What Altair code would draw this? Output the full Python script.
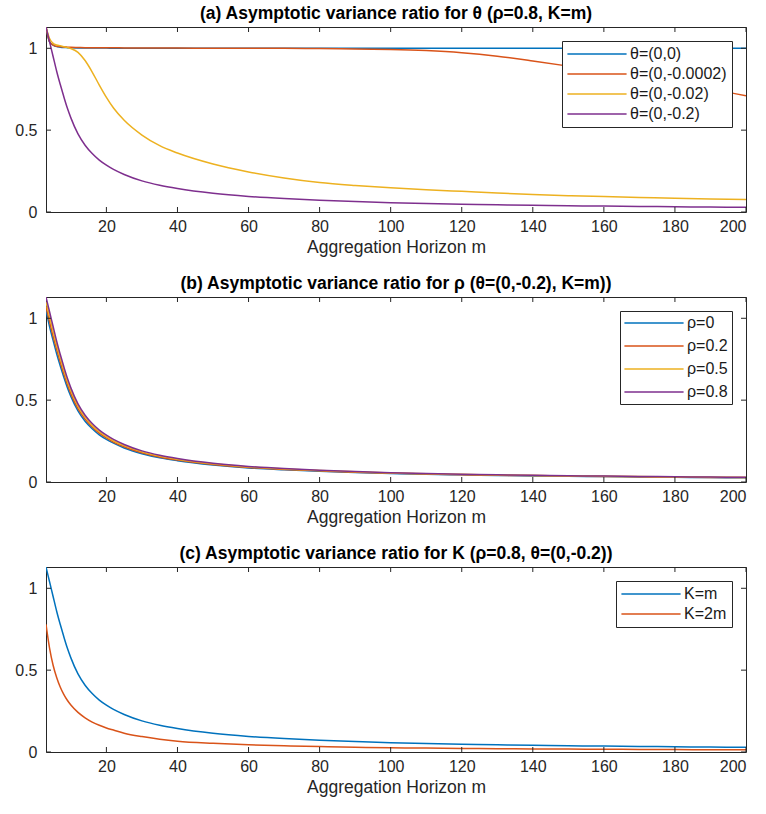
import altair as alt
import pandas as pd

# ---------------- data ----------------
m = [3, 4, 5, 6, 7, 8, 9, 10, 12, 14, 16, 18, 20, 22, 25, 30, 35, 40, 50, 60, 70,
     80, 90, 100, 110, 120, 130, 140, 150, 160, 170, 180, 190, 200]

# panel (a): theta
th_00 = [1.13, 1.04, 1.02, 1.01, 1.007, 1.005, 1.004, 1.003, 1.002, 1.002, 1.001, 1.001, 1.001, 1.0, 1.0, 1.0, 1.0,
         1.0, 1.0, 1.0, 1.0, 1.0, 1.0, 1.0, 1.0, 1.0, 1.0, 1.0, 1.0, 1.0, 1.0, 1.0, 1.0, 1.0]
th_00002 = [1.13, 1.04, 1.02, 1.012, 1.01, 1.008, 1.007, 1.006, 1.005, 1.004, 1.004, 1.003, 1.003, 1.003, 1.002,
            1.002, 1.001, 1.001, 1.0, 1.0, 1.0, 0.998, 0.996, 0.993, 0.986, 0.973, 0.952, 0.923, 0.891, 0.857,
            0.823, 0.789, 0.752, 0.71]
th_002 = [1.13, 1.06, 1.03, 1.02, 1.015, 1.01, 1.005, 0.998, 0.975, 0.925, 0.855, 0.775, 0.70, 0.635, 0.56, 0.47,
          0.405, 0.36, 0.293, 0.245, 0.208, 0.180, 0.162, 0.148, 0.136, 0.126, 0.116, 0.107, 0.100, 0.094, 0.089,
          0.084, 0.080, 0.076]
th_02 = [1.13, 1.04, 0.95, 0.86, 0.78, 0.705, 0.635, 0.575, 0.477, 0.408, 0.357, 0.317, 0.286, 0.26, 0.229, 0.19,
         0.163, 0.143, 0.114, 0.095, 0.082, 0.072, 0.064, 0.057, 0.052, 0.048, 0.044, 0.041, 0.038, 0.036, 0.034,
         0.032, 0.030, 0.029]

# panel (b): rho
rho_0 = [1.05, 0.95, 0.865, 0.783, 0.71, 0.642, 0.578, 0.523, 0.434, 0.371, 0.325, 0.288, 0.26, 0.237, 0.208,
         0.173, 0.148, 0.13, 0.104, 0.086, 0.075, 0.066, 0.058, 0.052, 0.047, 0.044, 0.040, 0.037, 0.035, 0.033,
         0.031, 0.029, 0.027, 0.026]
rho_2 = [1.07, 0.98, 0.89, 0.81, 0.733, 0.663, 0.597, 0.54, 0.448, 0.384, 0.336, 0.298, 0.269, 0.244, 0.215,
         0.179, 0.153, 0.134, 0.107, 0.089, 0.077, 0.068, 0.060, 0.054, 0.049, 0.045, 0.041, 0.039, 0.036, 0.034,
         0.032, 0.030, 0.028, 0.027]
rho_5 = [1.10, 1.01, 0.92, 0.835, 0.757, 0.684, 0.616, 0.558, 0.463, 0.396, 0.346, 0.307, 0.277, 0.252, 0.222,
         0.184, 0.158, 0.139, 0.111, 0.092, 0.080, 0.070, 0.062, 0.055, 0.050, 0.047, 0.043, 0.040, 0.037, 0.035,
         0.033, 0.031, 0.029, 0.028]
rho_8 = [1.13, 1.04, 0.95, 0.86, 0.78, 0.705, 0.635, 0.575, 0.477, 0.408, 0.357, 0.317, 0.286, 0.26, 0.229, 0.19,
         0.163, 0.143, 0.114, 0.095, 0.082, 0.072, 0.064, 0.057, 0.052, 0.048, 0.044, 0.041, 0.038, 0.036, 0.034,
         0.032, 0.030, 0.029]

# panel (c): K
k_m = [1.13, 1.04, 0.95, 0.86, 0.78, 0.705, 0.635, 0.575, 0.477, 0.408, 0.357, 0.317, 0.286, 0.26, 0.229, 0.19,
       0.163, 0.143, 0.114, 0.095, 0.082, 0.072, 0.064, 0.057, 0.052, 0.048, 0.044, 0.041, 0.038, 0.036, 0.034,
       0.032, 0.030, 0.029]
k_2m = [0.78, 0.635, 0.53, 0.455, 0.397, 0.352, 0.316, 0.287, 0.242, 0.209, 0.183, 0.163, 0.147, 0.134, 0.115,
        0.094, 0.078, 0.066, 0.053, 0.044, 0.038, 0.033, 0.029, 0.026, 0.024, 0.022, 0.0205, 0.019, 0.018,
        0.017, 0.016, 0.015, 0.014, 0.013]

labels_a = ["θ=(0,0)", "θ=(0,-0.0002)", "θ=(0,-0.02)", "θ=(0,-0.2)"]
labels_b = ["ρ=0", "ρ=0.2", "ρ=0.5", "ρ=0.8"]
labels_c = ["K=m", "K=2m"]

titles = ["(a) Asymptotic variance ratio for θ (ρ=0.8, K=m)",
          "(b) Asymptotic variance ratio for ρ (θ=(0,-0.2), K=m))",
          "(c) Asymptotic variance ratio for K (ρ=0.8, θ=(0,-0.2))"]

x_ticks = [20, 40, 60, 80, 100, 120, 140, 160, 180, 200]
y_ticks = [0, 0.5, 1]

colors = ["#0072BD", "#D95319", "#EDB120", "#7E2F8E"]

# ---------------- style ----------------
FONT = "Liberation Sans"
AX = "#262626"
W, H = 700, 185
TL = 5  # inward tick length

XS = alt.Scale(domain=[3, 200], nice=False, zero=False)
YS = alt.Scale(domain=[0, 1.13], nice=False, zero=True)
XAXIS = alt.Axis(values=x_ticks, ticks=False, domain=False, grid=False, labelFontSize=16, labelColor=AX,
                 labelFont=FONT, labelPadding=6, title="Aggregation Horizon m", titleFont=FONT,
                 titleFontSize=17.5, titleFontWeight="normal", titleColor=AX, titlePadding=4)
YAXIS = alt.Axis(values=y_ticks, format="~g", ticks=False, domain=False, grid=False, labelFontSize=16,
                 labelColor=AX, labelFont=FONT, labelPadding=9, title=None)


def long_df(labels, series):
    rows = []
    for lab, vals in zip(labels, series):
        for mi, v in zip(m, vals):
            rows.append({"m": mi, "v": v, "s": lab})
    return pd.DataFrame(rows)


def panel(title, labels, series, row_pad, leg_pad):
    df = long_df(labels, series)
    lines = alt.Chart(df).mark_line(strokeWidth=1.5, clip=True, interpolate="monotone").encode(
        x=alt.X("m:Q", scale=XS, axis=XAXIS, title="Aggregation Horizon m"),
        y=alt.Y("v:Q", scale=YS, axis=YAXIS, title=None),
        color=alt.Color("s:N", sort=labels,
                        scale=alt.Scale(domain=labels, range=colors[:len(labels)]),
                        legend=alt.Legend(title=None, orient="top-right", offset=14, padding=leg_pad,
                                          strokeColor=AX, fillColor="white", cornerRadius=0,
                                          symbolType="M-5,0H5", symbolSize=140, symbolStrokeWidth=1.5,
                                          symbolOffset=22, labelOffset=25, labelFontSize=16,
                                          labelFont=FONT, labelColor="#1a1a1a", rowPadding=row_pad)),
    )
    xt = pd.DataFrame({"t": x_ticks})
    yt = pd.DataFrame({"t": y_ticks})
    tick_top = alt.Chart(xt).mark_rule(color=AX, strokeWidth=1).encode(
        x=alt.X("t:Q", scale=XS, axis=XAXIS, title="Aggregation Horizon m"), y=alt.value(0), y2=alt.value(TL))
    tick_bot = alt.Chart(xt).mark_rule(color=AX, strokeWidth=1).encode(
        x=alt.X("t:Q", scale=XS, axis=XAXIS, title="Aggregation Horizon m"), y=alt.value(H), y2=alt.value(H - TL))
    tick_l = alt.Chart(yt).mark_rule(color=AX, strokeWidth=1).encode(
        y=alt.Y("t:Q", scale=YS, axis=YAXIS, title=None), x=alt.value(0), x2=alt.value(TL))
    tick_r = alt.Chart(yt).mark_rule(color=AX, strokeWidth=1).encode(
        y=alt.Y("t:Q", scale=YS, axis=YAXIS, title=None), x=alt.value(W), x2=alt.value(W - TL))
    return alt.layer(lines, tick_top, tick_bot, tick_l, tick_r).properties(
        width=W, height=H,
        title=alt.TitleParams(title, font=FONT, fontSize=17.5, fontWeight="bold", color="#000000",
                              offset=4, anchor="middle"))


pa = panel(titles[0], labels_a, [th_00, th_00002, th_002, th_02], 4, 5)
pb = panel(titles[1], labels_b, [rho_0, rho_2, rho_5, rho_8], 7, 4)
pc = panel(titles[2], labels_c, [k_m, k_2m], 4, 5)

chart = alt.vconcat(pa, pb, pc, spacing=18).resolve_scale(color="independent").properties(
    padding={"left": 14, "top": 4, "right": 8, "bottom": 4}, background="white"
).configure_view(stroke=AX, strokeWidth=1)

chart.save("out.html", embed_options={"renderer": "svg", "actions": False})
